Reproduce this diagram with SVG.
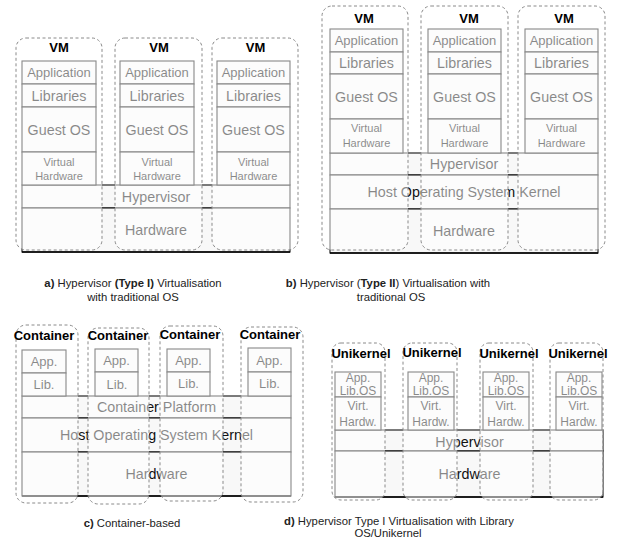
<svg xmlns="http://www.w3.org/2000/svg" width="618" height="541" viewBox="0 0 618 541">
<style>
text{font-family:"Liberation Sans",Arial,sans-serif;text-anchor:middle;fill:#111}
.b{fill:#f8f8f8;stroke:#111;stroke-width:1.1}
.ov{fill:#fff;fill-opacity:0.5;stroke:#8a8a8a;stroke-width:1;stroke-dasharray:3 2.5}
.t14{font-size:14.3px}
.t13{font-size:13px}
.t12{font-size:12px}
.t11{font-size:11px}
.lbl{font-size:13px;font-weight:bold;fill:#000}
.cap{font-size:11.3px;fill:#222}
.bd{font-weight:bold}
</style>
<rect width="618" height="541" fill="#fff"/>

<!-- Panel a -->
<g id="panel-a">
  <g id="a-stack">
    <rect class="b" x="22" y="185" width="268" height="23"/>
    <rect class="b" x="22" y="208" width="268" height="44"/>
    <text class="t14" x="156" y="201.5">Hypervisor</text>
    <text class="t14" x="156" y="235">Hardware</text>
    <line x1="22" y1="252" x2="290" y2="252" stroke="#000" stroke-width="1.6"/>
  </g>
  <g id="a-vm1-stack">
    <rect class="b" x="22" y="61" width="74" height="23"/>
    <rect class="b" x="22" y="84" width="74" height="23"/>
    <rect class="b" x="22" y="107" width="74" height="45"/>
    <rect class="b" x="22" y="152" width="74" height="33"/>
    <text class="t13" x="59" y="77">Application</text>
    <text class="t14" x="59" y="100.5">Libraries</text>
    <text class="t14" x="59" y="134.5">Guest OS</text>
    <text class="t11" x="59" y="166">Virtual</text>
    <text class="t11" x="59" y="180">Hardware</text>
  </g>
  <g id="a-vm2-stack">
    <rect class="b" x="120" y="61" width="74" height="23"/>
    <rect class="b" x="120" y="84" width="74" height="23"/>
    <rect class="b" x="120" y="107" width="74" height="45"/>
    <rect class="b" x="120" y="152" width="74" height="33"/>
    <text class="t13" x="157" y="77">Application</text>
    <text class="t14" x="157" y="100.5">Libraries</text>
    <text class="t14" x="157" y="134.5">Guest OS</text>
    <text class="t11" x="157" y="166">Virtual</text>
    <text class="t11" x="157" y="180">Hardware</text>
  </g>
  <g id="a-vm3-stack">
    <rect class="b" x="217" y="61" width="73" height="23"/>
    <rect class="b" x="217" y="84" width="73" height="23"/>
    <rect class="b" x="217" y="107" width="73" height="45"/>
    <rect class="b" x="217" y="152" width="73" height="33"/>
    <text class="t13" x="253.5" y="77">Application</text>
    <text class="t14" x="253.5" y="100.5">Libraries</text>
    <text class="t14" x="253.5" y="134.5">Guest OS</text>
    <text class="t11" x="253.5" y="166">Virtual</text>
    <text class="t11" x="253.5" y="180">Hardware</text>
  </g>
  <g id="a-vm1"><rect class="ov" x="16" y="38" width="86" height="212" rx="10"/><text class="lbl" x="59" y="52">VM</text></g>
  <g id="a-vm2"><rect class="ov" x="115" y="38" width="87" height="212" rx="10"/><text class="lbl" x="159" y="52">VM</text></g>
  <g id="a-vm3"><rect class="ov" x="212" y="38" width="86" height="212" rx="10"/><text class="lbl" x="255.5" y="52">VM</text></g>
  <g id="a-caption">
    <text class="cap" x="133" y="287"><tspan class="bd">a)</tspan> Hypervisor <tspan class="bd">(Type I)</tspan> Virtualisation</text>
    <text class="cap" x="133" y="301">with traditional OS</text>
  </g>
</g>

<!-- Panel b -->
<g id="panel-b">
  <g id="b-stack">
    <rect class="b" x="330" y="153" width="268" height="22"/>
    <rect class="b" x="330" y="175" width="268" height="34"/>
    <rect class="b" x="330" y="209" width="268" height="44"/>
    <text class="t14" x="464" y="169">Hypervisor</text>
    <text class="t14" x="464" y="197">Host Operating System Kernel</text>
    <text class="t14" x="464" y="236">Hardware</text>
    <line x1="330" y1="253" x2="598" y2="253" stroke="#000" stroke-width="1.6"/>
  </g>
  <g id="b-vm1-stack">
    <rect class="b" x="330" y="29" width="73" height="23"/>
    <rect class="b" x="330" y="52" width="73" height="22"/>
    <rect class="b" x="330" y="74" width="73" height="45"/>
    <rect class="b" x="330" y="119" width="73" height="34"/>
    <text class="t13" x="366.5" y="45">Application</text>
    <text class="t14" x="366.5" y="68">Libraries</text>
    <text class="t14" x="366.5" y="101.5">Guest OS</text>
    <text class="t11" x="366.5" y="132">Virtual</text>
    <text class="t11" x="366.5" y="147">Hardware</text>
  </g>
  <g id="b-vm2-stack">
    <rect class="b" x="428" y="29" width="73" height="23"/>
    <rect class="b" x="428" y="52" width="73" height="22"/>
    <rect class="b" x="428" y="74" width="73" height="45"/>
    <rect class="b" x="428" y="119" width="73" height="34"/>
    <text class="t13" x="464.5" y="45">Application</text>
    <text class="t14" x="464.5" y="68">Libraries</text>
    <text class="t14" x="464.5" y="101.5">Guest OS</text>
    <text class="t11" x="464.5" y="132">Virtual</text>
    <text class="t11" x="464.5" y="147">Hardware</text>
  </g>
  <g id="b-vm3-stack">
    <rect class="b" x="525" y="29" width="73" height="23"/>
    <rect class="b" x="525" y="52" width="73" height="22"/>
    <rect class="b" x="525" y="74" width="73" height="45"/>
    <rect class="b" x="525" y="119" width="73" height="34"/>
    <text class="t13" x="561.5" y="45">Application</text>
    <text class="t14" x="561.5" y="68">Libraries</text>
    <text class="t14" x="561.5" y="101.5">Guest OS</text>
    <text class="t11" x="561.5" y="132">Virtual</text>
    <text class="t11" x="561.5" y="147">Hardware</text>
  </g>
  <g id="b-vm1"><rect class="ov" x="322" y="6" width="86" height="244" rx="10"/><text class="lbl" x="364" y="23">VM</text></g>
  <g id="b-vm2"><rect class="ov" x="421" y="6" width="87" height="244" rx="10"/><text class="lbl" x="469" y="23">VM</text></g>
  <g id="b-vm3"><rect class="ov" x="518" y="6" width="87" height="244" rx="10"/><text class="lbl" x="564" y="23">VM</text></g>
  <g id="b-caption">
    <text class="cap" x="388" y="287"><tspan class="bd">b)</tspan>  Hypervisor (<tspan class="bd">Type II</tspan>) Virtualisation with</text>
    <text class="cap" x="391" y="301">traditional OS</text>
  </g>
</g>

<!-- Panel c -->
<g id="panel-c">
  <g id="c-stack">
    <rect class="b" x="22" y="396" width="269" height="22"/>
    <rect class="b" x="22" y="418" width="269" height="34"/>
    <rect class="b" x="22" y="452" width="269" height="44"/>
    <text class="t14" x="156.5" y="412">Container Platform</text>
    <text class="t14" x="156.5" y="440">Host Operating System Kernel</text>
    <text class="t14" x="156.5" y="479">Hardware</text>
    <line x1="22" y1="496" x2="291" y2="496" stroke="#000" stroke-width="1.6"/>
  </g>
  <g id="c-app1">
    <rect class="b" x="22" y="350" width="44" height="23"/>
    <rect class="b" x="22" y="373" width="44" height="23"/>
    <text class="t13" x="44" y="366">App.</text>
    <text class="t13" x="44" y="389">Lib.</text>
  </g>
  <g id="c-app2">
    <rect class="b" x="95" y="349" width="43" height="23"/>
    <rect class="b" x="95" y="372" width="43" height="24"/>
    <text class="t13" x="116.5" y="365">App.</text>
    <text class="t13" x="117" y="389">Lib.</text>
  </g>
  <g id="c-app3">
    <rect class="b" x="167" y="349" width="43" height="23"/>
    <rect class="b" x="167" y="372" width="43" height="24"/>
    <text class="t13" x="188.5" y="365">App.</text>
    <text class="t13" x="188.5" y="388">Lib.</text>
  </g>
  <g id="c-app4">
    <rect class="b" x="248" y="348" width="43" height="24"/>
    <rect class="b" x="248" y="372" width="43" height="24"/>
    <text class="t13" x="269.5" y="364.5">App.</text>
    <text class="t13" x="269.5" y="388">Lib.</text>
  </g>
  <g id="c-container1"><rect class="ov" x="16" y="325" width="62" height="178" rx="10"/><text class="lbl" x="44" y="340">Container</text></g>
  <g id="c-container2"><rect class="ov" x="88" y="328" width="61" height="176" rx="10"/><text class="lbl" x="118" y="340">Container</text></g>
  <g id="c-container3"><rect class="ov" x="160" y="326" width="63" height="175" rx="10"/><text class="lbl" x="190" y="339">Container</text></g>
  <g id="c-container4"><rect class="ov" x="241" y="327" width="62" height="175" rx="10"/><text class="lbl" x="270" y="339">Container</text></g>
  <g id="c-caption">
    <text class="cap" x="132" y="527"><tspan class="bd">c)</tspan> Container-based</text>
  </g>
</g>

<!-- Panel d -->
<g id="panel-d">
  <g id="d-stack">
    <rect class="b" x="335" y="430" width="268" height="21"/>
    <rect class="b" x="335" y="451" width="268" height="46"/>
    <text class="t14" x="469.5" y="447">Hypervisor</text>
    <text class="t14" x="469.5" y="479">Hardware</text>
    <line x1="335" y1="497" x2="603" y2="497" stroke="#000" stroke-width="1.6"/>
  </g>
  <g id="d-uk1-stack">
    <rect class="b" x="335" y="372" width="46" height="25"/>
    <rect class="b" x="335" y="397" width="46" height="33"/>
    <text class="t12" x="358" y="382">App.</text>
    <text class="t12" x="358" y="395">Lib.OS</text>
    <text class="t12" x="358" y="410">Virt.</text>
    <text class="t12" x="358" y="426">Hardw.</text>
  </g>
  <g id="d-uk2-stack">
    <rect class="b" x="408" y="372" width="46" height="25"/>
    <rect class="b" x="408" y="397" width="46" height="33"/>
    <text class="t12" x="431" y="382">App.</text>
    <text class="t12" x="431" y="395">Lib.OS</text>
    <text class="t12" x="431" y="410">Virt.</text>
    <text class="t12" x="431" y="426">Hardw.</text>
  </g>
  <g id="d-uk3-stack">
    <rect class="b" x="483" y="372" width="46" height="25"/>
    <rect class="b" x="483" y="397" width="46" height="33"/>
    <text class="t12" x="506" y="382">App.</text>
    <text class="t12" x="506" y="395">Lib.OS</text>
    <text class="t12" x="506" y="410">Virt.</text>
    <text class="t12" x="506" y="426">Hardw.</text>
  </g>
  <g id="d-uk4-stack">
    <rect class="b" x="556" y="372" width="46" height="25"/>
    <rect class="b" x="556" y="397" width="46" height="33"/>
    <text class="t12" x="579" y="382">App.</text>
    <text class="t12" x="579" y="395">Lib.OS</text>
    <text class="t12" x="579" y="410">Virt.</text>
    <text class="t12" x="579" y="426">Hardw.</text>
  </g>
  <g id="d-uk1"><rect class="ov" x="332" y="343" width="53" height="157" rx="9"/><text class="lbl" x="361" y="358">Unikernel</text></g>
  <g id="d-uk2"><rect class="ov" x="403" y="343" width="54" height="157" rx="9"/><text class="lbl" x="432" y="357">Unikernel</text></g>
  <g id="d-uk3"><rect class="ov" x="480" y="343" width="53" height="157" rx="9"/><text class="lbl" x="509" y="358">Unikernel</text></g>
  <g id="d-uk4"><rect class="ov" x="550" y="343" width="53" height="157" rx="9"/><text class="lbl" x="578" y="358">Unikernel</text></g>
  <g id="d-caption">
    <text class="cap" x="399" y="525"><tspan class="bd">d)</tspan> Hypervisor Type I Virtualisation with Library</text>
    <text class="cap" x="388" y="537">OS/Unikernel</text>
  </g>
</g>
</svg>
